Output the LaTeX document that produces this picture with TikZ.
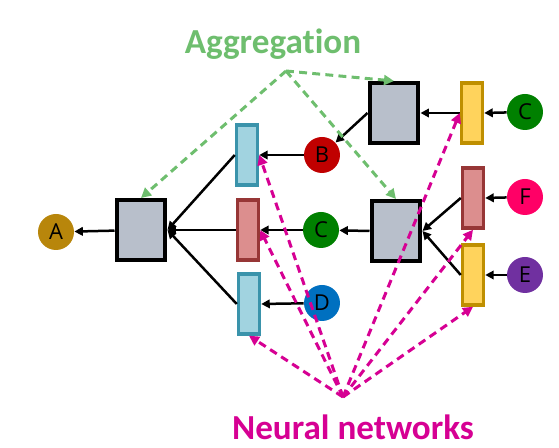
\documentclass[tikz,border=0pt]{standalone}
\usepackage{tikz}
\usetikzlibrary{arrows.meta}
\usepackage{fontspec}
\setmainfont{Open Sans}
\newfontfamily\calfont[Ligatures=NoCommon]{Carlito}

\definecolor{sqgray}{RGB}{184,191,203}
\definecolor{bluefill}{RGB}{161,211,224}
\definecolor{blueline}{RGB}{58,147,171}
\definecolor{redfill}{RGB}{220,142,142}
\definecolor{redline}{RGB}{151,54,54}
\definecolor{yelfill}{RGB}{255,211,92}
\definecolor{yelline}{RGB}{191,143,0}
\definecolor{aggr}{RGB}{110,190,110}
\definecolor{neur}{RGB}{214,0,147}
\definecolor{colA}{RGB}{184,134,11}
\definecolor{colB}{RGB}{192,0,0}
\definecolor{colC}{RGB}{0,128,0}
\definecolor{colD}{RGB}{0,112,192}
\definecolor{colE}{RGB}{112,48,160}
\definecolor{colF}{RGB}{255,0,102}

\begin{document}
\begin{tikzpicture}[x=0.02cm,y=-0.02cm,
  sq/.style={draw=black,fill=sqgray,line width=0.08cm,minimum width=0.98cm,minimum height=1.2cm,inner sep=0},
  bluebox/.style={draw=blueline,fill=bluefill,line width=0.07cm,minimum width=0.42cm,minimum height=1.2cm,inner sep=0},
  redbox/.style={draw=redline,fill=redfill,line width=0.07cm,minimum width=0.42cm,minimum height=1.2cm,inner sep=0},
  yelbox/.style={draw=yelline,fill=yelfill,line width=0.07cm,minimum width=0.42cm,minimum height=1.2cm,inner sep=0},
  vert/.style={circle,fill=#1,minimum size=0.72cm,inner sep=0,font=\fontsize{12.5}{14}\selectfont},
  link/.style={black,line width=0.05cm,-{Triangle[length=0.17cm,width=0.17cm]}},
  aggarrow/.style={aggr,line width=0.06cm,dash pattern=on 4.5pt off 3pt,-{Triangle[length=0.2cm,width=0.2cm]}},
  nnarrow/.style={neur,line width=0.06cm,dash pattern=on 4.5pt off 3pt,-{Triangle[length=0.2cm,width=0.2cm]}}]
\useasboundingbox (0,0) rectangle (559,448);

% nodes
\node[vert=colA] (A) at (56,232) {A};
\node[sq] (lsq) at (141,230) {};
\node[bluebox] (tb) at (247,155) {};
\node[redbox] (mr) at (248,230) {};
\node[bluebox] (bb) at (249,304) {};
\node[vert=colB] (B) at (322,155) {B};
\node[vert=colC] (C) at (321,230) {C};
\node[vert=colD] (D) at (322,303) {D};
\node[sq] (trsq) at (394,113) {};
\node[sq] (rmsq) at (396,231) {};
\node[yelbox] (ty) at (472,113) {};
\node[redbox] (rr) at (473,198) {};
\node[yelbox] (by) at (473,275) {};
\node[vert=colC] (C2) at (525,112) {C};
\node[vert=colF] (F) at (525,197) {F};
\node[vert=colE] (E) at (525,275) {E};

% message passing
\draw[link] (lsq) -- (A);
\draw[link] (tb.west) -- (lsq.east);
\draw[link] (mr.west) -- (lsq.east);
\draw[link] (bb.west) -- (lsq.east);
\draw[link] (B) -- (tb.east);
\draw[link] (C) -- (mr.east);
\draw[link] (D) -- (bb.east);
\draw[link] (trsq.west) -- (B);
\draw[link] (rmsq.west) -- (C);
\draw[link] (ty.west) -- (trsq.east);
\draw[link] (C2) -- (ty.east);
\draw[link] (rr.west) -- (rmsq.east);
\draw[link] (by.west) -- (rmsq.east);
\draw[link] (F) -- (rr.east);
\draw[link] (E) -- (by.east);

% labels
\node[aggr,anchor=base,font=\calfont\bfseries\fontsize{20}{24}\selectfont] (agg) at (273,54) {Aggregation};
\coordinate (aggtip) at (286,71);
\draw[aggarrow] (aggtip) -- (lsq.north);
\draw[aggarrow] (aggtip) -- (trsq.north);
\draw[aggarrow] (aggtip) -- (rmsq.north);

\node[neur,anchor=base,font=\calfont\bfseries\fontsize{20}{24}\selectfont] (nn) at (353,440) {Neural networks};
\coordinate (nntip) at (343,397);
\draw[nnarrow] (nntip) -- (tb.east);
\draw[nnarrow] (nntip) -- (mr.east);
\draw[nnarrow] (nntip) -- (bb.south);
\draw[nnarrow] (nntip) -- (ty.west);
\draw[nnarrow] (nntip) -- (rr.south);
\draw[nnarrow] (nntip) -- (by.south);
\end{tikzpicture}
\end{document}
